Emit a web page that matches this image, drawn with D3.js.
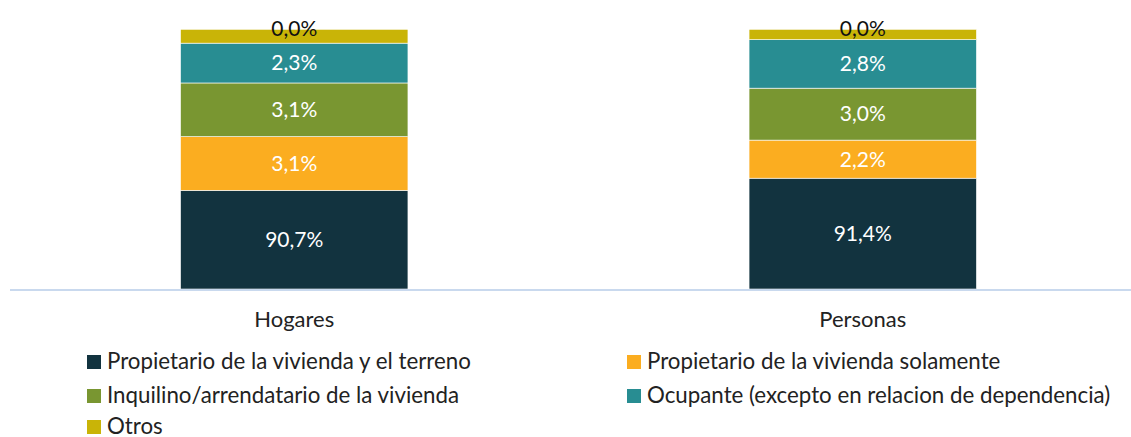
<!DOCTYPE html>
<html>
<head>
<meta charset="utf-8">
<script src="https://cdn.jsdelivr.net/npm/d3@7"></script>
<style>
  body { margin: 0; background: #fff; }
  svg { font-family: Lato, "Open Sans", sans-serif; }
</style>
</head>
<body>
<div id="chart"></div>
<script>
var w = 1131;
var h = 437;

// data
var categories = ['Hogares', 'Personas'];
var seriesNames = [
  'Propietario de la vivienda y el terreno',
  'Propietario de la vivienda solamente',
  'Inquilino/arrendatario de la vivienda',
  'Ocupante (excepto en relacion de dependencia)',
  'Otros'
];
var propTerreno = [90.7, 91.4];
var propSolo = [3.1, 2.2];
var inquilino = [3.1, 3.0];
var ocupante = [2.3, 2.8];
var otros = [0.8, 0.6];          // height
var otrosLabels = ['0,0%', '0,0%']; // label as printed on the chart
var colors = ['#12333F', '#FBAD20', '#799631', '#288D92', '#C9B407'];

var rows = categories.map(function(c, i) {
  return {
    cat: c,
    s0: propTerreno[i],
    s1: propSolo[i],
    s2: inquilino[i],
    s3: ocupante[i],
    s4: otros[i]
  };
});
var keys = ['s0', 's1', 's2', 's3', 's4'];

var svg = d3.select('#chart')
            .append('svg')
            .attr('width', w)
            .attr('height', h);

var x = d3.scaleBand()
          .domain(categories)
          .range([10, 1147])
          .paddingInner(0.6)
          .paddingOuter(0.3);

// value axis starts at 85%
var y = d3.scaleLinear()
          .domain([85, 100])
          .range([289, 29.3]);

var layers = d3.stack().keys(keys)(rows);

var fmt = function(v) { return d3.format('.1f')(v).replace('.', ',') + '%'; };

var groups = svg.append('g')
  .selectAll('g')
  .data(layers)
  .enter()
  .append('g')
  .attr('fill', function(d, i) { return colors[i]; });

groups.selectAll('rect')
  .data(function(d) { return d; })
  .enter()
  .append('rect')
  .attr('x', function(d) { return x(d.data.cat); })
  .attr('width', x.bandwidth())
  .attr('y', function(d) { return y(d[1]); })
  .attr('height', function(d) { return y(Math.max(d[0], 85)) - y(d[1]); })
  .attr('stroke', '#fff')
  .attr('stroke-width', 0.6);

// labels
layers.forEach(function(layer, li) {
  layer.forEach(function(d, i) {
    var isOtros = li === 4;
    var cy = isOtros ? y(d[1]) - 1 : (y(Math.max(d[0], 85)) + y(d[1])) / 2;
    svg.append('text')
       .attr('x', x(d.data.cat) + x.bandwidth() / 2)
       .attr('y', cy)
       .attr('dy', '0.35em')
       .attr('text-anchor', 'middle')
       .style('font-size', '21px')
       .style('fill', isOtros ? '#111' : '#fff')
       .text(isOtros ? otrosLabels[i] : fmt(d[1] - d[0]));
  });
});

// axis line
svg.append('line')
   .attr('x1', 10)
   .attr('x2', 1131)
   .attr('y1', y(85) + 1)
   .attr('y2', y(85) + 1)
   .attr('stroke', '#C9D9EE')
   .attr('stroke-width', 2);

var xAxis = d3.axisBottom(x).tickSize(0).tickPadding(0);
var ax = svg.append('g')
   .attr('transform', 'translate(0,' + 311 + ')')
   .call(xAxis);
ax.select('.domain').remove();
ax.selectAll('text')
  .attr('dy', '0.71em')
  .style('font-size', '22px')
  .style('font-family', 'Lato, sans-serif')
  .style('fill', '#222');

// legend
var legendPos = [[87, 361], [627, 361], [87, 395], [627, 395], [87, 426]];
var legend = svg.append('g')
  .selectAll('g')
  .data(seriesNames)
  .enter()
  .append('g')
  .attr('transform', function(d, i) { return 'translate(' + legendPos[i][0] + ',' + legendPos[i][1] + ')'; });

legend.append('rect')
  .attr('x', 0)
  .attr('y', -6)
  .attr('width', 14)
  .attr('height', 14)
  .attr('fill', function(d, i) { return colors[i]; });

legend.append('text')
  .attr('x', 20)
  .attr('dy', '0.35em')
  .style('font-size', '22.3px')
  .style('fill', '#222')
  .text(function(d) { return d; });
</script>
</body>
</html>
